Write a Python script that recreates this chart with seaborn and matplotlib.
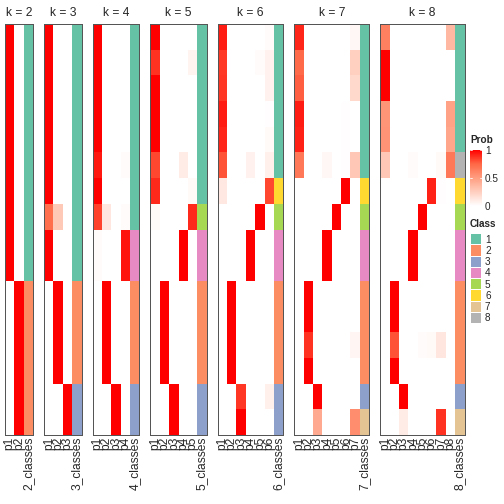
import numpy as np
import pandas as pd
import matplotlib
matplotlib.use("Agg")
import matplotlib.pyplot as plt
from matplotlib.colors import LinearSegmentedColormap, ListedColormap
import seaborn as sns

# membership probabilities (16 samples) for every k, one row per sample
probs_k2 = [
    [1, 0], [1, 0], [1, 0], [1, 0], [1, 0], [1, 0], [1, 0], [1, 0],
    [1, 0], [1, 0], [0, 1], [0, 1], [0, 1], [0, 1], [0, 1], [0, 1],
]
class_k2 = [1, 1, 1, 1, 1, 1, 1, 1, 1, 1, 2, 2, 2, 2, 2, 2]

probs_k3 = [
    [1, 0, 0], [1, 0, 0], [1, 0, 0], [1, 0, 0], [1, 0, 0], [1, 0, 0], [1, 0, 0],
    [0.72, 0.28, 0], [1, 0, 0], [1, 0, 0],
    [0, 1, 0], [0, 1, 0], [0, 1, 0], [0, 1, 0], [0, 0, 1], [0, 0, 1],
]
class_k3 = [1, 1, 1, 1, 1, 1, 1, 1, 1, 1, 2, 2, 2, 2, 3, 3]

probs_k4 = [
    [1, 0, 0, 0], [1, 0, 0, 0], [1, 0, 0, 0], [1, 0, 0, 0], [1, 0, 0, 0],
    [0.94, 0, 0, 0.02], [1, 0, 0, 0], [0.84, 0.13, 0, 0.02],
    [0.02, 0, 0, 0.95], [0.02, 0, 0, 0.95],
    [0, 1, 0, 0], [0, 1, 0, 0], [0, 1, 0, 0], [0, 1, 0, 0],
    [0, 0, 1, 0], [0, 0, 1, 0],
]
class_k4 = [1, 1, 1, 1, 1, 1, 1, 1, 4, 4, 2, 2, 2, 2, 3, 3]

probs_k5 = [
    [1, 0, 0, 0, 0], [0.88, 0, 0, 0, 0.06], [1, 0, 0, 0, 0], [1, 0, 0, 0, 0],
    [1, 0, 0, 0, 0], [0.83, 0, 0, 0.1, 0], [0.9, 0, 0, 0, 0.03],
    [0.03, 0, 0, 0, 0.9], [0, 0, 0, 1, 0], [0, 0, 0, 1, 0],
    [0, 1, 0, 0, 0], [0, 1, 0, 0, 0], [0, 1, 0, 0, 0], [0, 1, 0, 0, 0],
    [0, 0, 1, 0, 0], [0, 0, 1, 0, 0],
]
class_k5 = [1, 1, 1, 1, 1, 1, 1, 5, 4, 4, 2, 2, 2, 2, 3, 3]

probs_k6 = [
    [0.93, 0, 0, 0, 0, 0.02], [0.86, 0, 0, 0, 0.02, 0.07],
    [0.87, 0, 0, 0, 0, 0.07], [0.93, 0, 0, 0, 0, 0.01],
    [0.91, 0, 0, 0, 0, 0.03], [0.8, 0, 0, 0.07, 0, 0.08],
    [0.12, 0, 0, 0, 0, 0.83], [0, 0, 0, 0, 1, 0],
    [0, 0, 0, 1, 0, 0], [0, 0, 0, 1, 0, 0],
    [0, 1, 0, 0, 0, 0], [0, 1, 0, 0, 0, 0], [0, 1, 0, 0, 0, 0], [0, 1, 0, 0, 0, 0],
    [0, 0, 0.87, 0, 0, 0.08], [0, 0, 1, 0, 0, 0],
]
class_k6 = [1, 1, 1, 1, 1, 1, 6, 5, 4, 4, 2, 2, 2, 2, 3, 3]

probs_k7 = [
    [0.91, 0, 0, 0, 0, 0, 0.04], [0.74, 0, 0, 0, 0, 0, 0.25],
    [0.77, 0, 0, 0, 0, 0, 0.2], [0.93, 0, 0, 0, 0, 0.01, 0],
    [0.92, 0, 0, 0, 0, 0.01, 0], [0.67, 0, 0, 0.04, 0, 0.01, 0.29],
    [0, 0, 0, 0, 0, 1, 0], [0, 0, 0, 0, 1, 0, 0],
    [0, 0, 0, 1, 0, 0, 0], [0, 0, 0, 1, 0, 0, 0],
    [0, 1, 0, 0, 0, 0, 0], [0, 1, 0, 0, 0, 0, 0],
    [0, 0.88, 0, 0, 0, 0, 0.05], [0, 1, 0, 0, 0, 0, 0],
    [0, 0, 1, 0, 0, 0, 0], [0, 0, 0.44, 0, 0, 0, 0.58],
]
class_k7 = [1, 1, 1, 1, 1, 1, 6, 5, 4, 4, 2, 2, 2, 2, 3, 7]

probs_k8 = [
    [0.64, 0, 0, 0, 0, 0, 0, 0.37], [1, 0, 0, 0, 0, 0, 0, 0],
    [1, 0, 0, 0, 0, 0, 0, 0], [0.54, 0, 0, 0, 0, 0, 0, 0.48],
    [0.55, 0, 0, 0, 0, 0, 0, 0.46], [0.29, 0, 0, 0.02, 0, 0, 0.03, 0.67],
    [0, 0, 0, 0, 0, 0.92, 0.01, 0], [0, 0, 0, 0, 1, 0, 0, 0],
    [0, 0, 0, 1, 0, 0, 0, 0], [0, 0, 0, 1, 0, 0, 0, 0],
    [0, 1, 0, 0, 0, 0, 0, 0], [0, 1, 0, 0, 0, 0, 0, 0],
    [0, 0.8, 0, 0, 0.02, 0.03, 0.13, 0], [0, 1, 0, 0, 0, 0, 0, 0],
    [0, 0, 1, 0, 0, 0, 0, 0], [0, 0, 0.1, 0, 0, 0, 0.88, 0],
]
class_k8 = [1, 1, 1, 1, 1, 8, 6, 5, 4, 4, 2, 2, 2, 2, 3, 7]

ks = [2, 3, 4, 5, 6, 7, 8]
all_probs = [probs_k2, probs_k3, probs_k4, probs_k5, probs_k6, probs_k7, probs_k8]
all_classes = [class_k2, class_k3, class_k4, class_k5, class_k6, class_k7, class_k8]

class_labels = ["1", "2", "3", "4", "5", "6", "7", "8"]
class_colors = ["#66C2A5", "#FC8D62", "#8DA0CB", "#E78AC3",
                "#A6D854", "#FFD92F", "#E5C494", "#B3B3B3"]

# white -> red, interpolated in LAB like ComplexHeatmap does
prob_cmap = LinearSegmentedColormap.from_list(
    "prob", [(0, "#FFFFFF"), (0.25, "#FFCFBF"), (0.5, "#FF9E81"),
             (0.75, "#FF6846"), (1, "#FF0000")])
class_cmap = ListedColormap(class_colors)

sns.set_style("white")
plt.rcParams["font.family"] = ["Liberation Sans", "DejaVu Sans"]

W = H = 504.0
fig = plt.figure(figsize=(7, 7), dpi=72)

col_w = 9.37
top_px, bot_px = 24, 435
x = 5.0
prob_mappable = None
for k, probs, cls in zip(ks, all_probs, all_classes):
    width = (k + 1) * col_w
    ax = fig.add_axes([x / W, 1 - bot_px / H, width / W, (bot_px - top_px) / H])
    cols = [f"p{j + 1}" for j in range(k)] + [f"{k}_classes"]

    prob_df = pd.DataFrame(probs, columns=cols[:-1])
    prob_df[cols[-1]] = np.nan
    sns.heatmap(prob_df, ax=ax, cmap=prob_cmap, vmin=0, vmax=1, cbar=False,
                yticklabels=False)
    if prob_mappable is None:
        prob_mappable = ax.collections[0]

    cls_df = pd.DataFrame(np.nan, index=range(len(cls)), columns=cols)
    cls_df[cols[-1]] = cls
    sns.heatmap(cls_df, ax=ax, cmap=class_cmap, vmin=0.5, vmax=8.5, cbar=False,
                yticklabels=False)

    ax.set_xticks(np.arange(k + 1) + 0.5)
    ax.set_xticklabels(cols, rotation=90, fontsize=12)
    ax.tick_params(axis="x", length=0, pad=2)
    ax.set_title(f"k = {k}", fontsize=12, pad=8)
    for s in ax.spines.values():
        s.set_visible(True)
        s.set_color("#555555")
        s.set_linewidth(1)
    x += width + 11

# probability legend
fig.text(470 / W, 1 - 140 / H, "Prob", fontsize=10, fontweight="bold", va="center")
cax = fig.add_axes([470 / W, 1 - 206 / H, 12 / W, 56 / H])
cb = fig.colorbar(prob_mappable, cax=cax, ticks=[0, 0.5, 1])
cb.outline.set_visible(False)
cb.ax.set_yticklabels(["0", "0.5", "1"], fontsize=10)
cb.ax.tick_params(length=0, pad=3)
for t in [0.5, 1]:
    cax.axhline(t, xmin=0, xmax=0.2, color="white", lw=0.8)
    cax.axhline(t, xmin=0.8, xmax=1, color="white", lw=0.8)

# class legend
fig.text(470 / W, 1 - 224 / H, "Class", fontsize=10, fontweight="bold", va="center")
lax = fig.add_axes([470 / W, 1 - 323 / H, 11 / W, 90 / H])
legend_df = pd.DataFrame({"c": np.arange(1, 9)}, index=class_labels)
sns.heatmap(legend_df, ax=lax, cmap=class_cmap, vmin=0.5, vmax=8.5, cbar=False,
            xticklabels=False, linewidths=0.6, linecolor="white")
lax.yaxis.tick_right()
lax.set_yticklabels(class_labels, rotation=0, fontsize=10)
lax.tick_params(axis="y", length=0, pad=4)
lax.set_ylabel("")

fig.savefig("out.png", dpi=72)
